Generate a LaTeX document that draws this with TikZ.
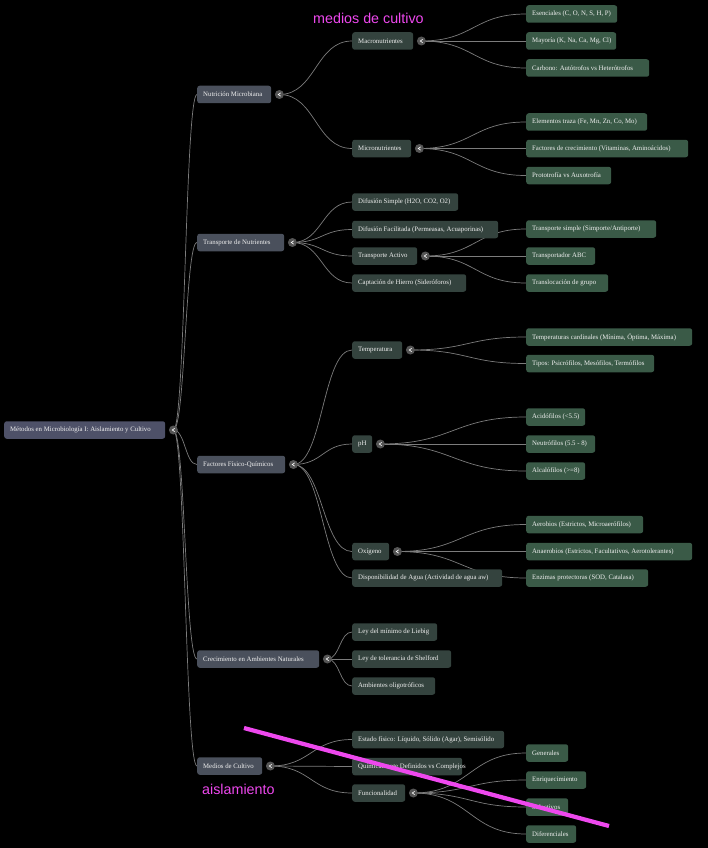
\documentclass[tikz,border=0pt]{standalone}
\usepackage{fontspec}
\setmainfont{Liberation Serif}
\newfontfamily\labelfont{Liberation Sans}
\usetikzlibrary{calc}
\pgfdeclarelayer{back}
\pgfdeclarelayer{bg}
\pgfsetlayers{back,bg,main}
\definecolor{rootc}{HTML}{4E5168}
\definecolor{lonec}{HTML}{4A505C}
\definecolor{ltwoc}{HTML}{34433E}
\definecolor{lthreec}{HTML}{3A5A47}
\definecolor{togc}{HTML}{555555}
\definecolor{edgec}{HTML}{7C7C7C}
\definecolor{txt}{HTML}{F0F0F0}
\definecolor{magc}{HTML}{EE48EE}
\tikzset{
  box/.style={anchor=west, rounded corners=2.5pt, minimum height=17.5pt, inner xsep=6pt, inner ysep=0pt, text=txt, font=\fontsize{6.8}{8}\selectfont},
  rootbox/.style={box, fill=rootc},
  lone/.style={box, fill=lonec},
  ltwo/.style={box, fill=ltwoc},
  lthree/.style={box, fill=lthreec},
  tog/.style={circle, fill=togc, minimum size=9pt, inner sep=0pt},
  chev/.style={draw=white, line width=0.6pt},
  edge/.style={draw=edgec, line width=0.7pt},
  mag/.style={text=magc, font=\labelfont\fontsize{14.3}{16}\selectfont, inner sep=0pt},
}
\newcommand{\bn}[5]{\node[#1] (#2) at (#3) {\makebox[\dimexpr#4pt-12pt\relax][l]{#5}};}
\newcommand{\tg}[2]{\node[tog] (#1) at ([xshift=8pt]#2.east) {};
  \draw[chev] ([xshift=1.3pt,yshift=1.6pt]#1.center) -- ([xshift=-1.2pt]#1.center) -- ([xshift=1.3pt,yshift=-1.6pt]#1.center);}
\newcommand{\ed}[2]{\draw[edge] let \p1=(#1.center), \p2=(#2.west), \n1={(\x2-\x1)/2} in (\p1) .. controls +(\n1,0) and +(-\n1,0) .. (\p2);}
\begin{document}
\begin{tikzpicture}[x=1pt,y=-1pt]
\begin{pgfonlayer}{back}
\fill[black] (0,0) rectangle (708,848);
\end{pgfonlayer}
\useasboundingbox (0,0) rectangle (708,848);

% root
\bn{rootbox}{root}{4,430}{161}{Métodos en Microbiología I: Aislamiento y Cultivo}
\tg{trt}{root}

% level 1
\bn{lone}{n1}{197,94.5}{74}{Nutrición Microbiana}
\bn{lone}{n2}{197,242.5}{87}{Transporte de Nutrientes}
\bn{lone}{n3}{197,464.5}{88}{Factores Físico-Químicos}
\bn{lone}{n4}{197,659}{122}{Crecimiento en Ambientes Naturales}
\bn{lone}{n5}{197,766}{65}{Medios de Cultivo}
\tg{t1}{n1}\tg{t2}{n2}\tg{t3}{n3}\tg{t4}{n4}\tg{t5}{n5}

% level 2
\bn{ltwo}{a1}{352,41}{61}{Macronutrientes}
\bn{ltwo}{a2}{352,148.5}{59}{Micronutrientes}
\bn{ltwo}{b1}{352,202}{106}{Difusión Simple (H2O, CO2, O2)}
\bn{ltwo}{b2}{352,229.5}{146}{Difusión Facilitada (Permeasas, Acuaporinas)}
\bn{ltwo}{b3}{352,256}{65}{Transporte Activo}
\bn{ltwo}{b4}{352,283}{114}{Captación de Hierro (Sideróforos)}
\bn{ltwo}{c1}{352,350}{50}{Temperatura}
\bn{ltwo}{c2}{352,444}{20}{pH}
\bn{ltwo}{c3}{352,551.5}{37}{Oxígeno}
\bn{ltwo}{c4}{352,578}{150}{Disponibilidad de Agua (Actividad de agua aw)}
\bn{ltwo}{d1}{352,632}{85}{Ley del mínimo de Liebig}
\bn{ltwo}{d2}{352,659}{99}{Ley de tolerancia de Shelford}
\bn{ltwo}{d3}{352,686}{83}{Ambientes oligotróficos}
\bn{ltwo}{e1}{352,739.5}{152}{Estado físico: Líquido, Sólido (Agar), Semisólido}
\bn{ltwo}{e2}{352,766.5}{110}{Químicamente Definidos vs Complejos}
\bn{ltwo}{e3}{352,793}{53}{Funcionalidad}
\tg{ta1}{a1}\tg{ta2}{a2}\tg{tb3}{b3}\tg{tc1}{c1}\tg{tc2}{c2}\tg{tc3}{c3}\tg{te3}{e3}

% level 3
\bn{lthree}{f1}{526,14}{91}{Esenciales (C, O, N, S, H, P)}
\bn{lthree}{f2}{526,41}{90}{Mayoría (K, Na, Ca, Mg, Cl)}
\bn{lthree}{f3}{526,68}{123}{Carbono: Autótrofos vs Heterótrofos}
\bn{lthree}{f4}{526,122}{121}{Elementos traza (Fe, Mn, Zn, Co, Mo)}
\bn{lthree}{f5}{526,148.5}{162}{Factores de crecimiento (Vitaminas, Aminoácidos)}
\bn{lthree}{f6}{526,175.5}{85}{Prototrofía vs Auxotrofía}
\bn{lthree}{g1}{526,229}{130}{Transporte simple (Simporte/Antiporte)}
\bn{lthree}{g2}{526,256}{69}{Transportador ABC}
\bn{lthree}{g3}{526,283}{82}{Translocación de grupo}
\bn{lthree}{h1}{526,337}{166}{Temperaturas cardinales (Mínima, Óptima, Máxima)}
\bn{lthree}{h2}{526,363.5}{128}{Tipos: Psicrófilos, Mesófilos, Termófilos}
\bn{lthree}{i1}{526,417}{59}{Acidófilos (<5.5)}
\bn{lthree}{i2}{526,444}{69}{Neutrófilos (5.5 - 8)}
\bn{lthree}{i3}{526,471}{59}{Alcalófilos (>=8)}
\bn{lthree}{j1}{526,524.5}{117}{Aerobios (Estrictos, Microaerófilos)}
\bn{lthree}{j2}{526,551.5}{166}{Anaerobios (Estrictos, Facultativos, Aerotolerantes)}
\bn{lthree}{j3}{526,578}{122}{Enzimas protectoras (SOD, Catalasa)}
\bn{lthree}{k1}{526,753}{42}{Generales}
\bn{lthree}{k2}{526,780}{60}{Enriquecimiento}
\bn{lthree}{k3}{526,807}{42}{Selectivos}
\bn{lthree}{k4}{526,834}{50}{Diferenciales}

\begin{pgfonlayer}{bg}
\ed{trt}{n1}\ed{trt}{n2}\ed{trt}{n3}\ed{trt}{n4}\ed{trt}{n5}
\ed{t1}{a1}\ed{t1}{a2}
\ed{t2}{b1}\ed{t2}{b2}\ed{t2}{b3}\ed{t2}{b4}
\ed{t3}{c1}\ed{t3}{c2}\ed{t3}{c3}\ed{t3}{c4}
\ed{t4}{d1}\ed{t4}{d2}\ed{t4}{d3}
\ed{t5}{e1}\ed{t5}{e2}\ed{t5}{e3}
\ed{ta1}{f1}\ed{ta1}{f2}\ed{ta1}{f3}
\ed{ta2}{f4}\ed{ta2}{f5}\ed{ta2}{f6}
\ed{tb3}{g1}\ed{tb3}{g2}\ed{tb3}{g3}
\ed{tc1}{h1}\ed{tc1}{h2}
\ed{tc2}{i1}\ed{tc2}{i2}\ed{tc2}{i3}
\ed{tc3}{j1}\ed{tc3}{j2}\ed{tc3}{j3}
\ed{te3}{k1}\ed{te3}{k2}\ed{te3}{k3}\ed{te3}{k4}
\end{pgfonlayer}

% annotations
\node[mag, anchor=base west] (lblmedios) at (313,24) {medios de cultivo};
\node[mag, anchor=base west] (lblaisl) at (202,794) {aislamiento};
\coordinate (ms) at (244,728);
\coordinate (me) at (609,826);
\draw[magc, line width=4.2pt] (ms) -- (me);
\end{tikzpicture}
\end{document}
